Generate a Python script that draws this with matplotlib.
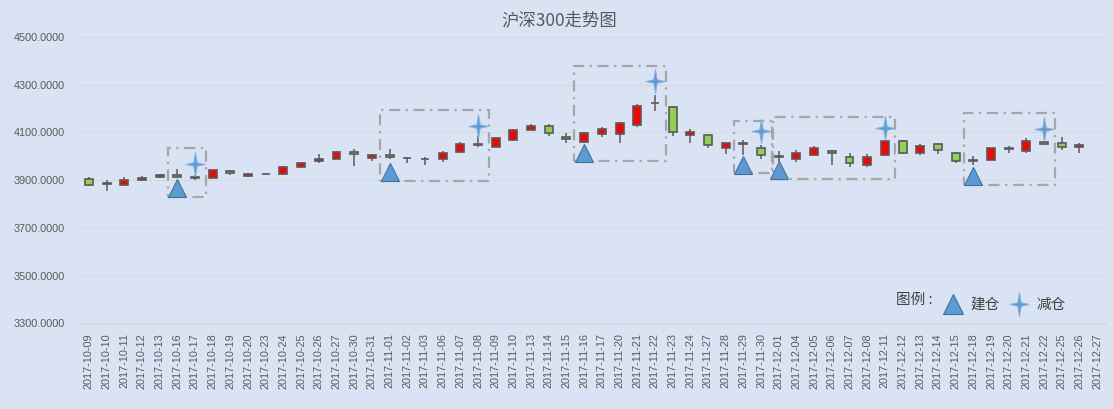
import matplotlib
matplotlib.use("Agg")
import matplotlib.pyplot as plt
import numpy as np
from matplotlib.patches import Rectangle
from matplotlib.path import Path
from matplotlib.lines import Line2D

plt.rcParams['font.family'] = ['Liberation Sans', 'Noto Sans CJK SC', 'DejaVu Sans']

dates = ['2017-10-09', '2017-10-10', '2017-10-11', '2017-10-12', '2017-10-13',
         '2017-10-16', '2017-10-17', '2017-10-18', '2017-10-19', '2017-10-20',
         '2017-10-23', '2017-10-24', '2017-10-25', '2017-10-26', '2017-10-27',
         '2017-10-30', '2017-10-31', '2017-11-01', '2017-11-02', '2017-11-03',
         '2017-11-06', '2017-11-07', '2017-11-08', '2017-11-09', '2017-11-10',
         '2017-11-13', '2017-11-14', '2017-11-15', '2017-11-16', '2017-11-17',
         '2017-11-20', '2017-11-21', '2017-11-22', '2017-11-23', '2017-11-24',
         '2017-11-27', '2017-11-28', '2017-11-29', '2017-11-30', '2017-12-01',
         '2017-12-04', '2017-12-05', '2017-12-06', '2017-12-07', '2017-12-08',
         '2017-12-11', '2017-12-12', '2017-12-13', '2017-12-14', '2017-12-15',
         '2017-12-18', '2017-12-19', '2017-12-20', '2017-12-21', '2017-12-22',
         '2017-12-25', '2017-12-26', '2017-12-27']

opens = [3906, 3886, 3882, 3899, 3912, 3924, 3911, 3911, 3937, 3918,
         3927, 3925, 3955, 3979, 3990, 4020, 3993, 4005, 3995, 3991,
         3987, 4020, 4048, 4041, 4067, 4112, 4126, 4083, 4062, 4093,
         4093, 4131, 4223, 4208, 4089, 4088, 4033, 4058, 4033, 3998,
         3987, 4004, 4024, 3999, 3962, 4006, 4066, 4014, 4050, 4016,
         3981, 3985, 4031, 4021, 4062, 4054, 4039, np.nan]
closes = [3880, 3887, 3900, 3911, 3920, 3913, 3912, 3942, 3929, 3925,
          3928, 3957, 3974, 3991, 4020, 4010, 4005, 3997, 3994, 3990,
          4016, 4051, 4050, 4075, 4109, 4126, 4097, 4072, 4098, 4116,
          4141, 4212, 4225, 4100, 4101, 4047, 4055, 4051, 4004, 4000,
          4016, 4037, 4014, 3972, 3999, 4066, 4013, 4045, 4026, 3980,
          3983, 4033, 4033, 4065, 4051, 4039, 4049, np.nan]
highs = [3912, 3899, 3912, 3917, 3926, 3946, 3920, 3944, 3943, 3930,
         3932, 3958, 3976, 4010, 4023, 4031, 4012, 4030, 3997, 3996,
         4022, 4060, 4085, 4077, 4115, 4135, 4134, 4098, 4102, 4122,
         4144, 4218, 4255, 4212, 4113, 4090, 4058, 4068, 4046, 4024,
         4028, 4043, 4027, 4016, 4012, 4068, 4068, 4052, 4058, 4018,
         4000, 4035, 4042, 4078, 4064, 4082, 4058, np.nan]
lows = [3875, 3856, 3880, 3895, 3908, 3910, 3902, 3909, 3924, 3912,
        3923, 3920, 3951, 3972, 3987, 3960, 3982, 3990, 3973, 3965,
        3978, 4019, 4038, 4038, 4065, 4110, 4085, 4057, 4057, 4080,
        4058, 4125, 4188, 4085, 4055, 4033, 4010, 4004, 3990, 3975,
        3976, 4002, 3962, 3955, 3955, 4003, 4012, 4005, 4012, 3972,
        3965, 3983, 4014, 4014, 4046, 4026, 4014, np.nan]

# 建仓 (buy) and 减仓 (sell) signals
buy_dates = ['2017-10-16', '2017-11-01', '2017-11-16', '2017-11-29', '2017-12-01', '2017-12-18']
buy_values = [3868, 3935, 4014, 3964, 3943, 3918]
sell_dates = ['2017-10-17', '2017-11-08', '2017-11-22', '2017-11-30', '2017-12-11', '2017-12-22']
sell_values = [3968, 4128, 4316, 4107, 4120, 4113]

# holding periods: (first date, last date, lower value, upper value)
box_start = ['2017-10-16', '2017-11-01', '2017-11-16', '2017-11-29', '2017-12-01', '2017-12-18']
box_end = ['2017-10-17', '2017-11-08', '2017-11-22', '2017-11-30', '2017-12-11', '2017-12-22']
box_low = [3831, 3898, 3979, 3929, 3907, 3880]
box_high = [4036, 4194, 4379, 4149, 4166, 4180]

bg = '#dae3f3'
grid_c = '#d9d9d9'
text_c = '#595959'
edge_c = '#595959'
up_c = '#ff0000'
down_c = '#92d050'
blue = '#5b9bd5'

fig = plt.figure(figsize=(11.13, 4.09), dpi=100, facecolor=bg)
ax = fig.add_axes([80 / 1113, 1 - 323.5 / 409, 1026 / 1113, 286.5 / 409])
ax.set_facecolor(bg)

x = np.arange(len(dates))
o = np.array(opens, dtype=float)
c = np.array(closes, dtype=float)
h = np.array(highs, dtype=float)
l = np.array(lows, dtype=float)
ok = ~np.isnan(o)

ax.vlines(x[ok], l[ok], h[ok], color=edge_c, lw=1.1, zorder=2)
colors = [up_c if cc >= oo else down_c for oo, cc in zip(o[ok], c[ok])]
ax.bar(x[ok], np.abs(c[ok] - o[ok]), bottom=np.minimum(o[ok], c[ok]), width=0.45,
       color=colors, edgecolor=edge_c, linewidth=1.2, zorder=3)

idx = {d: i for i, d in enumerate(dates)}

for k, (s, e, lo, hi) in enumerate(zip(box_start, box_end, box_low, box_high)):
    left_pad = 0.3 if k == 4 else 0.55
    x0 = idx[s] - left_pad
    x1 = idx[e] + 0.6
    rect = Rectangle((x0, lo), x1 - x0, hi - lo, fill=False, edgecolor='#a6a6a6',
                     linewidth=1.6, linestyle=(0, (5, 2.5, 1, 2.5)), zorder=4)
    ax.add_patch(rect)

star = Path([(0, 1), (0.14, 0.14), (0.8, 0), (0.14, -0.14), (0, -1),
             (-0.14, -0.14), (-0.8, 0), (-0.14, 0.14), (0, 1)],
            [Path.MOVETO] + [Path.LINETO] * 7 + [Path.CLOSEPOLY])

ax.plot([idx[d] for d in buy_dates], buy_values, linestyle='none', marker='^',
        markersize=13, markerfacecolor=blue, markeredgecolor='#41719c',
        markeredgewidth=0.8, zorder=5)
ax.plot([idx[d] for d in sell_dates], sell_values, linestyle='none', marker=star,
        markersize=17, markerfacecolor=blue, markeredgecolor='#7fb0df',
        markeredgewidth=0.8, zorder=5)

ax.set_xlim(-0.5, len(dates) - 0.5)
ax.set_ylim(3300, 4500)
ax.set_yticks(np.arange(3300, 4501, 200))
ax.set_yticklabels([f'{v:.4f}' for v in np.arange(3300, 4501, 200)])
ax.set_xticks(x)
ax.set_xticklabels(dates, rotation=90)
ax.set_xticks(np.arange(-0.5, len(dates), 3), minor=True)
ax.tick_params(axis='x', which='major', length=0, pad=7, labelsize=7.8, colors=text_c)
ax.tick_params(axis='x', which='minor', length=4, color=grid_c, width=0.8)
ax.tick_params(axis='y', length=0, pad=11, labelsize=7.8, colors=text_c)
ax.grid(axis='y', color=grid_c, linewidth=0.8, zorder=0)
ax.set_axisbelow(True)
for side in ['top', 'right', 'left']:
    ax.spines[side].set_visible(False)
ax.spines['bottom'].set_color(grid_c)
ax.spines['bottom'].set_linewidth(0.8)

fig.text(559 / 1113, 1 - 20 / 409, '沪深300走势图', ha='center', va='center',
         fontsize=12.5, color=text_c, family=['Noto Sans CJK SC', 'DejaVu Sans'])

fig.text(896 / 1113, 1 - 300 / 409, '图例 :', ha='left', va='center', fontsize=10.5,
         color='#404040', family=['Noto Sans CJK SC', 'DejaVu Sans'])
handles = [Line2D([], [], linestyle='none', marker='^', markersize=14,
                  markerfacecolor=blue, markeredgecolor='#41719c', markeredgewidth=0.8),
           Line2D([], [], linestyle='none', marker=star, markersize=17,
                  markerfacecolor=blue, markeredgecolor='#7fb0df', markeredgewidth=0.8)]
leg = fig.legend(handles, ['建仓', '减仓'], ncol=2, loc='center left',
                 bbox_to_anchor=(931 / 1113, 1 - 305 / 409), frameon=False,
                 handlelength=1.2, handletextpad=0.6, columnspacing=0.7,
                 prop={'family': ['Noto Sans CJK SC', 'DejaVu Sans'], 'size': 10.5})
for t in leg.get_texts():
    t.set_color('#404040')

fig.savefig('out.png', dpi=100, facecolor=bg)
